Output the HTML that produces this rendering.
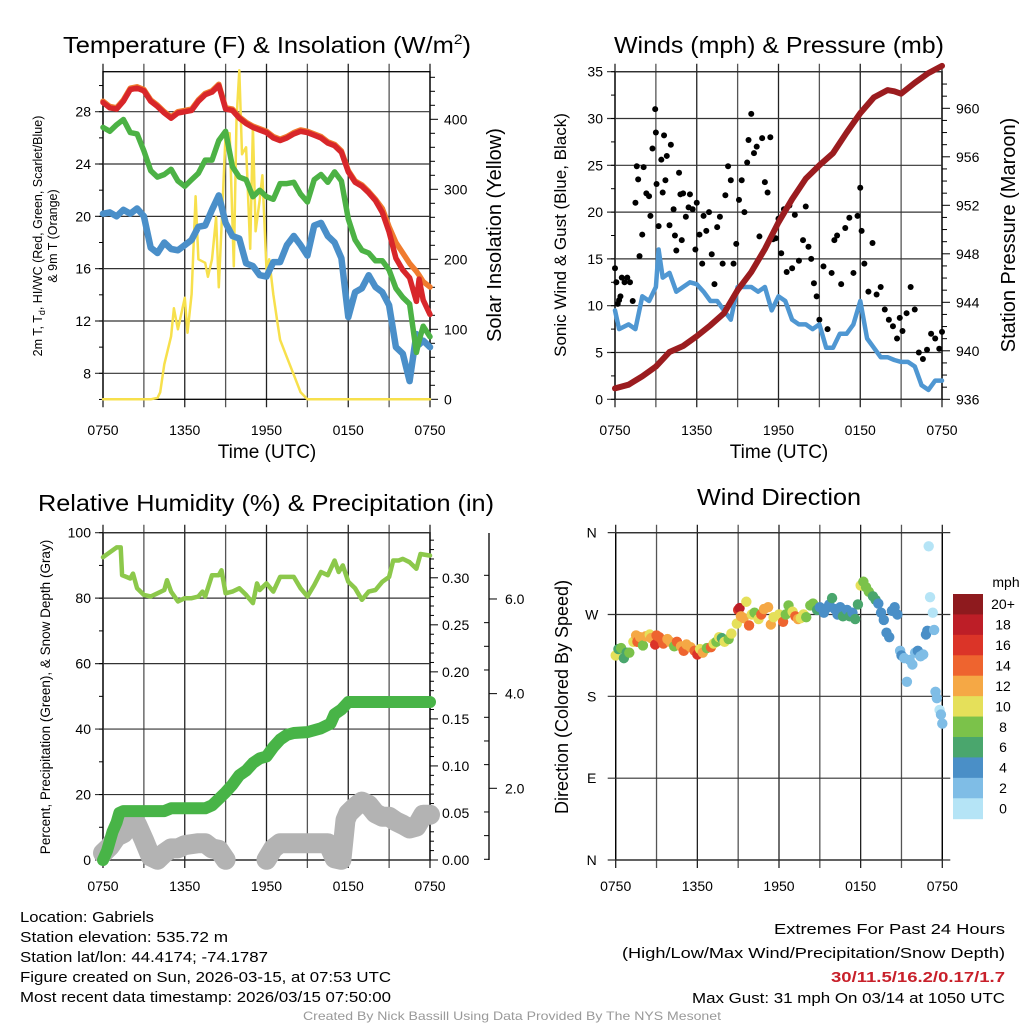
<!DOCTYPE html>
<html><head><meta charset="utf-8"><style>
html,body{margin:0;padding:0;background:#fff}
svg{display:block;font-family:"Liberation Sans",sans-serif}
</style></head><body>
<svg id="c" width="1024" height="1024" viewBox="0 0 1024 1024" xmlns="http://www.w3.org/2000/svg">
<rect width="1024" height="1024" fill="#fff"/>
<g id="g"></g>
<text x="267" y="53" font-size="23" text-anchor="middle" textLength="408" lengthAdjust="spacingAndGlyphs">Temperature (F) &amp; Insolation (W/m<tspan font-size="14" dy="-9">2</tspan><tspan dy="9">)</tspan></text>
<text x="779" y="53" font-size="23" text-anchor="middle" textLength="330" lengthAdjust="spacingAndGlyphs">Winds (mph) &amp; Pressure (mb)</text>
<text x="266" y="511" font-size="23" text-anchor="middle" textLength="456" lengthAdjust="spacingAndGlyphs">Relative Humidity (%) &amp; Precipitation (in)</text>
<text x="779" y="505" font-size="23" text-anchor="middle" textLength="164" lengthAdjust="spacingAndGlyphs">Wind Direction</text>
<g font-size="15">
<text x="20" y="922" textLength="134" lengthAdjust="spacingAndGlyphs">Location: Gabriels</text>
<text x="20" y="942" textLength="208" lengthAdjust="spacingAndGlyphs">Station elevation: 535.72 m</text>
<text x="20" y="962" textLength="248" lengthAdjust="spacingAndGlyphs">Station lat/lon: 44.4174; -74.1787</text>
<text x="20" y="982" textLength="371" lengthAdjust="spacingAndGlyphs">Figure created on Sun, 2026-03-15, at 07:53 UTC</text>
<text x="20" y="1002" textLength="371" lengthAdjust="spacingAndGlyphs">Most recent data timestamp: 2026/03/15 07:50:00</text>
</g>
<g font-size="15" text-anchor="end">
<text x="1005" y="934" textLength="231" lengthAdjust="spacingAndGlyphs">Extremes For Past 24 Hours</text>
<text x="1005" y="958" textLength="383" lengthAdjust="spacingAndGlyphs">(High/Low/Max Wind/Precipitation/Snow Depth)</text>
<text x="1005" y="982" fill="#c8202a" font-weight="bold" textLength="174" lengthAdjust="spacingAndGlyphs">30/11.5/16.2/0.17/1.7</text>
<text x="1005" y="1003" textLength="313" lengthAdjust="spacingAndGlyphs">Max Gust: 31 mph On 03/14 at 1050 UTC</text>
</g>
<text x="512" y="1020" font-size="12" fill="#999" text-anchor="middle" textLength="418" lengthAdjust="spacingAndGlyphs">Created By Nick Bassill Using Data Provided By The NYS Mesonet</text>
</svg>
<script>
// ---- data (time in hours since 0750 UTC) ----
const timeLabels=["0750","1350","1950","0150","0750"];
const tT=[0,0.5,1,1.5,2,2.5,3,3.5,4,4.5,5,5.5,6,6.5,7,7.5,8,8.5,9,9.5,10,10.5,11,11.5,12,12.5,13,13.5,14,14.5,15,15.5,16,16.5,17,17.5,18,18.5,19,19.5,20,20.5,21,21.5,22,22.5,23,23.2,23.5,24];
const tempRed=[28.7,28.3,28.2,28.8,29.7,29.8,29.6,28.8,28.4,27.9,27.5,27.9,28,28.1,28.8,29.3,29.5,30,28.2,28.1,27.5,27.1,26.8,26.6,26.4,26,25.8,26,26.3,26.5,26.4,26.2,26,25.6,25.4,24.9,23.4,22.6,22.3,21.8,21.2,20.3,18.8,16.8,15.9,15.3,13.5,15.2,13.6,12.5];
const temp9m=[28.8,28.4,28.3,28.9,29.8,29.9,29.7,28.9,28.5,28,27.6,28,28.1,28.2,28.9,29.4,29.6,30.1,28.3,28.2,27.6,27.2,26.9,26.7,26.5,26.1,25.9,26.1,26.4,26.6,26.5,26.3,26.1,25.7,25.5,25,23.5,22.7,22.4,21.9,21.3,20.6,19.2,18,17.2,16.4,15.8,15.5,15,14.6];
const dewGreen=[26.8,26.5,27,27.4,26.4,26.3,25,23.5,23,23.2,23.6,22.7,22.3,22.8,23.3,24.3,24.3,25.8,26.5,23.8,23,22.8,21.5,22,21.5,21.3,22.5,22.5,22.6,21.7,21.1,22.8,23.2,22.6,23.4,22.7,19.8,18.2,17.4,17.2,16.6,16.6,15.9,14.5,13.8,13.3,9.6,10.5,11.6,10.8];
const wcBlue=[20.2,20.3,20,20.5,20.2,20.6,20,17.6,17.2,18,17.5,17.4,17.8,18.2,19.2,19.3,20.5,21.6,19.5,18.5,18.3,16.4,16.2,15.5,15.4,16.5,16.5,17.8,18.5,17.8,17,19.3,19.5,18.5,18,16.8,12.3,14.2,14.5,15.5,14.6,14.2,13.2,10,9.5,7.4,11,10.2,10.5,10];
const tSolar=[0,3.5,4,4.2,4.5,5,5.2,5.5,6,6.2,6.5,6.8,7,7.5,7.7,8,8.3,8.5,8.8,9,9.3,9.6,9.8,10,10.2,10.5,10.8,11,11.2,11.5,11.7,12,12.2,12.5,12.8,13,13.5,14,14.5,15,24];
const solar=[0,0,2,10,50,90,130,100,145,95,150,290,200,195,175,200,260,160,290,380,380,190,400,470,350,360,215,390,240,285,320,185,200,150,110,85,60,35,10,0,0];
const tP=[0,1,2,3,4,5,6,7,8,9,10,11,12,13,14,15,16,17,18,19,20,20.5,21,22,23,24];
const pressure=[936.9,937.2,937.9,938.7,939.9,940.4,941.2,942.1,943.1,945,946.5,948.4,950.6,952.5,954.2,955.3,956.3,958,959.6,960.9,961.5,961.4,961.2,962.1,962.9,963.5];
const tW=[0,0.3,1,1.5,2,2.5,3,3.2,3.5,4,4.5,5,5.5,6,6.5,7,7.5,8,8.5,9,9.5,10,10.5,11,11.5,12,12.5,13,13.5,14,14.5,15,15.5,16,16.5,17,17.5,18,18.5,19,19.5,20,20.5,21,21.5,22,22.5,23,23.5,24];
const windSonic=[9.5,7.5,8,7.5,11,10.5,12,16,13,13.5,11.5,12,12.5,12.3,11.5,10.5,10.5,9.5,8.5,12,12,12,11.5,12,9.5,11,10.5,8.5,8,8,7.5,8,5.5,5.5,7,7,8,10.5,6.5,5.5,4.5,4.5,4.2,4,4,3.5,1.5,1,2,2];
const tGust=[0,0.1,0.2,0.3,0.4,0.5,0.7,0.9,1.1,1.3,1.5,1.6,1.7,1.8,2.0,2.1,2.3,2.5,2.6,2.75,2.95,3.0,3.05,3.2,3.4,3.5,3.6,3.7,3.8,4.0,4.1,4.3,4.4,4.5,4.7,4.8,4.9,5.0,5.2,5.4,5.5,5.7,5.9,6.0,6.2,6.4,6.5,6.7,6.9,7.1,7.3,7.5,7.7,7.9,8.1,8.3,8.5,8.7,8.9,9.1,9.3,9.5,9.7,9.8,10.0,10.2,10.4,10.6,10.8,11.0,11.2,11.4,11.6,11.8,12.0,12.2,12.4,12.6,12.8,13.0,13.2,13.5,13.8,14.0,14.2,14.4,14.6,14.8,15.0,15.3,15.6,15.9,16.1,16.3,16.6,16.9,17.2,17.5,17.8,18.0,18.1,18.3,18.6,18.9,19.2,19.5,19.8,20.1,20.4,20.7,20.9,21.1,21.4,21.7,22.0,22.3,22.6,22.9,23.2,23.5,23.8,24.0];
const gust=[14,12.5,10.2,10.6,11,13,12.5,13,12.5,10.5,21,24.9,23.5,15.3,17.6,24.8,22,21.7,19.6,26.8,31,28.5,23,18.5,25.6,22.1,28.2,23.4,26,18.6,27.2,20.3,17.5,15.9,24.2,21.9,17,22,19.5,20.5,21.9,20.3,16,21,17.6,14.5,19.6,18,20,15.5,12.3,18.4,19.5,14.5,21.8,24.9,23.4,14.5,16.6,21.3,23.4,20,25.3,27.7,30.5,26.3,27,17.4,27.9,23.2,22.1,28,17.1,17.2,19.3,15.6,20.3,13.6,20.7,14,19.7,14.8,17,20.6,16.3,15,12.4,11,8.5,14.2,7.5,13.5,17,17.5,12.3,18.3,19.4,13.5,19.6,22.6,18,14.5,11.5,16.7,11.2,12,9.6,8.5,7.8,6.5,8.7,7.3,9.2,12,9.6,5,4.3,5.3,7,6.5,5.4,7.2,5.5,3.7,2.2,2.5,2.8];
const tRH=[0,0.5,1,1.3,1.4,2,2.2,2.5,3,3.5,4,4.5,4.7,5,5.5,6,6.5,7,7.3,7.5,8,8.5,8.7,9,9.5,10,10.5,11,11.3,11.5,12,12.5,13,13.5,14,14.5,15,15.5,16,16.5,17,17.3,17.6,18,18.5,19,19.5,20,20.5,21,21.3,21.7,22,22.5,23,23.3,24];
const rh=[92.5,94,95.5,95.5,87,86,87.5,83,81,80.5,81.5,82.5,85.5,82,79,80,80,80.5,82,80.5,87,87,88.5,81.5,82,83,81,78.5,84.5,82.5,84.5,82,86.5,86.5,86.5,83,80.5,84,88,87,91.5,88,90,85,83,79.5,82,82.5,85,86.5,91.5,91.5,92,91,89,93.5,93];
const tPr=[0,0.3,0.5,0.7,1,1.2,1.5,4.5,5,7.5,8,8.5,9,9.5,10,10.5,11,11.5,12,12.5,13,13.5,14,15,16,16.7,17,17.5,18,24];
const precip=[0,0.01,0.02,0.03,0.04,0.05,0.052,0.052,0.055,0.055,0.058,0.065,0.072,0.08,0.09,0.095,0.103,0.108,0.11,0.12,0.128,0.133,0.135,0.136,0.14,0.145,0.155,0.16,0.168,0.168];
const tSnowA=[0,0.5,1,1.5,2,2.5,3,3.5,4,4.5,5,5.5,6,7,7.5,8,8.5,9];
const snowA=[0.63,0.77,0.98,1.05,1.26,1.23,0.91,0.56,0.49,0.63,0.73,0.73,0.80,0.84,0.84,0.73,0.70,0.49];
const tSnowB=[12,12.5,13,14,15,16,16.5,17,17.5,17.8,18,18.5,19,19.5,20,20.5,21,21.5,22,22.5,23,23.5,24];
const snowB=[0.49,0.73,0.84,0.84,0.84,0.84,0.84,0.52,0.49,1.33,1.47,1.61,1.72,1.65,1.47,1.40,1.40,1.30,1.23,1.15,1.19,1.44,1.44];
const tSnowPts=[4.6,4.7,4.8,12.6,18,18.3,18.4,18.6,24];
const snowPts=[0.73,0.77,0.71,0.77,1.40,1.50,1.47,1.54,1.47];
const dirLabels=["N","E","S","W","N"];
const tDir=[0,0.2,0.4,0.6,0.8,1.0,1.3,1.5,1.6,1.8,2.0,2.2,2.5,2.6,2.9,3.0,3.2,3.4,3.5,3.8,4.0,4.3,4.5,4.8,5.0,5.2,5.5,5.8,6.0,6.2,6.4,6.7,7.0,7.2,7.4,7.6,7.8,8.0,8.3,8.5,8.9,9.0,9.1,9.2,9.4,9.6,9.8,10.0,10.2,10.5,10.7,10.9,11.2,11.4,11.6,12.0,12.3,12.5,12.7,13.0,13.2,13.4,13.6,13.8,14.0,14.3,14.5,14.8,15.0,15.3,15.5,15.7,15.9,16.1,16.3,16.5,16.7,17.0,17.2,17.4,17.6,17.8,18.0,18.2,18.4,18.6,18.9,19.1,19.3,19.5,19.7,19.9,20.1,20.3,20.5,20.7,20.9,21.0,21.2,21.4,21.6,21.8,22.0,22.2,22.4,22.6,22.8,22.9,23.0,23.1,23.3,23.4,23.5,23.6,23.8,23.9,24.0];
const dirDeg=[225,232,233,222,228,228,240,247,240,245,236,246,248,244,237,247,245,242,238,243,240,235,240,235,230,237,234,230,226,232,228,233,234,238,240,245,244,240,243,249,260,275,277,268,266,284,258,270,272,265,270,276,278,259,267,270,262,270,280,273,268,265,266,270,267,280,282,275,278,272,277,281,288,276,270,278,268,275,268,272,265,281,302,306,300,295,290,286,282,272,264,250,245,274,278,270,230,225,222,196,220,215,228,230,224,226,248,252,345,289,272,253,185,178,165,160,150,140,130];
const dirSpeed=[10,7,8,7,7,8,10,12,14,12,8,12,11,12,17,14,15,14,15,13,12,8,15,13,14,12,12,15,16,11,12,9,15,10,9,10,7,10,9,10,10,16,18,12,12,10,14,10,9,11,15,12,13,12,11,11,15,9,8,10,14,12,10,11,9,9,9,7,4,5,4,5,6,4,5,4,6,5,6,5,7,6,10,9,8,8,7,6,5,4,4,4,4,4,4,4,3,4,3,2,3,3,2,4,3,3,4,4,0,1,1,2,2,3,1,2,3,1,2];
const cbLabels=["20+","18","16","14","12","10","8","6","4","2","0"];
const cbColors=["#8e1a1e","#bd1e27","#db3428","#ee642f","#f5a845","#e5e05a","#7bc24a","#4aa66d","#4a8fc7","#7fbde6","#b5e4f6"];

// ---- helpers ----
const NS="http://www.w3.org/2000/svg";
const G=document.getElementById('g');
function el(tag,attrs,parent){const e=document.createElementNS(NS,tag);for(const k in attrs)e.setAttribute(k,attrs[k]);(parent||G).appendChild(e);return e;}
function txt(x,y,s,attrs,parent){const e=el('text',Object.assign({x:x,y:y},attrs),parent);e.textContent=s;return e;}
function pts(ts,vs,sx,sy){return ts.map((t,i)=>sx(t).toFixed(1)+','+sy(vs[i]).toFixed(1)).join(' ');}
function line(ts,vs,sx,sy,color,w,name){const p=el('polyline',{points:pts(ts,vs,sx,sy),fill:'none',stroke:color,'stroke-width':w,'stroke-linejoin':'round','stroke-linecap':'round'});


return p;}

function frame(x0,x1,y0,y1,name){
  const g=el('g',{});
  
  
  const xs=t=>x0+t*(x1-x0)/24;
  for(let k=0;k<=8;k++){const x=xs(k*3);el('line',{x1:x,y1:y0-8,x2:x,y2:y1+8,stroke:(k%2?'#555':'#222'),'stroke-width':1.3},g);}
  el('rect',{x:x0,y:y0,width:x1-x0,height:y1-y0,fill:'none',stroke:'#000','stroke-width':1.3},g);
  return {g,xs};
}
function timeAxis(xs,y,g){timeLabels.forEach((s,i)=>{const lab=txt(xs(i*6),y,s,{'font-size':14,'text-anchor':'middle'},g);

});}
function hgrid(g,x0,x1,ys,ext){ys.forEach(y=>el('line',{x1:x0-ext,y1:y,x2:x1,y2:y,stroke:'#333','stroke-width':1.2},g));}

// ===== Panel 1 =====
(function(){
  const x0=103,x1=430,y0=71.7,y1=399.3;
  const f=frame(x0,x1,y0,y1,'temperature-panel');const g=f.g,xs=f.xs;
  const yT=v=>373.3-(v-8)*13.08, yS=w=>399.3-w*0.7;
  const lt=[8,12,16,20,24,28];
  hgrid(g,x0,x1,lt.map(yT),8);
  for(let v=6;v<=30;v+=2){el('line',{x1:x0-4,y1:yT(v),x2:x0,y2:yT(v),stroke:'#000'},g);}
  lt.forEach(v=>txt(x0-12,yT(v)+5,String(v),{'font-size':14,'text-anchor':'end'},g));
  for(let w=0;w<=460;w+=20){const big=w%100==0;el('line',{x1:x1,y1:yS(w),x2:x1+(big?8:5),y2:yS(w),stroke:'#000'},g);}
  [0,100,200,300,400].forEach(w=>txt(x1+14,yS(w)+5,String(w),{'font-size':14},g));
  line(tSolar,solar,xs,yS,'#f7e04c',2.5,'solar-insolation-line');
  line(tT,wcBlue,xs,yT,'#4a8fc9',6.5,'wind-chill-line');
  line(tT,dewGreen,xs,yT,'#4cb245',5.5,'dewpoint-line');
  line(tT,temp9m,xs,yT,'#f07b2e',5.5,'temp-9m-line');
  line(tT,tempRed,xs,yT,'#d8262a',5.5,'temp-2m-line');
  timeAxis(xs,435,g);
  txt(267,458,'Time (UTC)',{'font-size':19,'text-anchor':'middle'},g);
  const yl=txt(0,0,'',{'font-size':12.5,'text-anchor':'middle',transform:'translate(42,236) rotate(-90)'},g);
  yl.innerHTML='2m T, T<tspan font-size="9" dy="3">d</tspan><tspan dy="-3">, HI/WC (Red, Green, Scarlet/Blue)</tspan>';
  
  txt(0,0,'& 9m T (Orange)',{'font-size':12.5,'text-anchor':'middle',transform:'translate(57,236) rotate(-90)'},g);
  const rl=txt(0,0,'Solar Insolation (Yellow)',{'font-size':20,'text-anchor':'middle',transform:'translate(501,235) rotate(-90)'},g);
  
})();

// ===== Panel 2 =====
(function(){
  const x0=615,x1=942,y0=71.7,y1=399.3;
  const f=frame(x0,x1,y0,y1,'winds-panel');const g=f.g,xs=f.xs;
  const yW=v=>399.3-v*9.36, yP=p=>399.3-(p-936)*12.125;
  const lt=[0,5,10,15,20,25,30,35];
  hgrid(g,x0,x1,lt.map(yW),8);
  for(let v=0;v<=35;v+=2.5){el('line',{x1:x0-4,y1:yW(v),x2:x0,y2:yW(v),stroke:'#000'},g);}
  lt.forEach(v=>txt(x0-12,yW(v)+5,String(v),{'font-size':14,'text-anchor':'end'},g));
  for(let p=936;p<=962;p+=1){const big=p%4==0;el('line',{x1:x1,y1:yP(p),x2:x1+(big?8:5),y2:yP(p),stroke:'#000'},g);}
  [936,940,944,948,952,956,960].forEach(p=>txt(x1+14,yP(p)+5,String(p),{'font-size':14},g));
  line(tW,windSonic,xs,yW,'#4f97d2',4.5,'sonic-wind-line');
  tGust.forEach((t,i)=>{const c=el('circle',{cx:xs(t),cy:yW(gust[i]),r:3,fill:'#000'},g);
  
  });
  line(tP,pressure,xs,yP,'#9b1c1f',6,'pressure-line');
  timeAxis(xs,435,g);
  txt(779,458,'Time (UTC)',{'font-size':19,'text-anchor':'middle'},g);
  txt(0,0,'Sonic Wind & Gust (Blue, Black)',{'font-size':17,'text-anchor':'middle',transform:'translate(566,235) rotate(-90)'},g);
  txt(0,0,'Station Pressure (Maroon)',{'font-size':20,'text-anchor':'middle',transform:'translate(1015,235) rotate(-90)'},g);
})();

// ===== Panel 3 =====
(function(){
  const x0=103,x1=430,y0=532.7,y1=860;
  const f=frame(x0,x1,y0,y1,'humidity-panel');const g=f.g,xs=f.xs;
  const yR=v=>860-v*3.273, yPr=p=>860-p*940.7, ySn=s=>788.3-(s-2)*47.33;
  const lt=[0,20,40,60,80,100];
  hgrid(g,x0,x1,lt.map(yR),8);
  for(let v=0;v<=100;v+=10){el('line',{x1:x0-4,y1:yR(v),x2:x0,y2:yR(v),stroke:'#000'},g);}
  lt.forEach(v=>txt(x0-12,yR(v)+5,String(v),{'font-size':14,'text-anchor':'end'},g));
  for(let p=0;p<=0.345;p+=0.01){const big=Math.round(p*100)%5==0;el('line',{x1:x1,y1:yPr(p),x2:x1+(big?8:4),y2:yPr(p),stroke:'#000'},g);}
  ['0.00','0.05','0.10','0.15','0.20','0.25','0.30'].forEach(s=>txt(x1+12,yPr(parseFloat(s))+5,s,{'font-size':14},g));
  el('line',{x1:489,y1:533,x2:489,y2:860,stroke:'#000','stroke-width':1.3},g);
  for(let s=0.5;s<=6.9;s+=0.5){const y=ySn(s);if(y<533||y>860)continue;const big=Math.abs(s-Math.round(s))<0.01&&Math.round(s)%2==0;el('line',{x1:489,y1:y,x2:big?497:484,y2:y,stroke:'#000'},g);}
  ['2.0','4.0','6.0'].forEach(s=>txt(505,ySn(parseFloat(s))+5,s,{'font-size':14},g));
  line(tSnowA,snowA,xs,ySn,'#b3b3b3',20,'snow-depth-line-a');
  line(tSnowB,snowB,xs,ySn,'#b3b3b3',20,'snow-depth-line-b');
  tSnowPts.forEach((t,i)=>{const c=el('circle',{cx:xs(t),cy:ySn(snowPts[i]),r:2.5,fill:'#9b30e0'},g);
  
  });
  line(tPr,precip,xs,yPr,'#48b447',12,'precipitation-line');
  line(tRH,rh,xs,yR,'#8cc84b',4.5,'relative-humidity-line');
  timeAxis(xs,891,g);
  txt(0,0,'Percent, Precipitation (Green), & Snow Depth (Gray)',{'font-size':13.5,'text-anchor':'middle',transform:'translate(50,697) rotate(-90)'},g);
})();

// ===== Panel 4 =====
(function(){
  const x0=615.7,x1=942.3,y0=532.7,y1=860;
  const f=frame(x0,x1,y0,y1,'wind-direction-panel');const g=f.g,xs=f.xs;
  const yD=d=>860-d*0.9093;
  const lt=[0,90,180,270,360];
  hgrid(g,x0,x1+8,lt.map(yD),8);
  lt.forEach((d,i)=>txt(x0-24,yD(d)+5,dirLabels[i],{'font-size':14,'text-anchor':'middle'},g));
  const col=s=>cbColors[10-Math.min(10,Math.floor(s/2))];
  tDir.forEach((t,i)=>{const c=el('circle',{cx:xs(t),cy:yD(dirDeg[i]),r:5.2,fill:col(dirSpeed[i])},g);
  
  });
  timeAxis(xs,891,g);
  txt(0,0,'Direction (Colored By Speed)',{'font-size':18,'text-anchor':'middle',transform:'translate(568,697) rotate(-90)'},g);
  const cb=el('g',{});
  
  
  const h=(818.7-594)/11;
  cbColors.forEach((c,i)=>{el('rect',{x:953,y:594+i*h,width:30,height:h+0.5,fill:c},cb);
    txt(1003,594+i*h+h/2+5,cbLabels[i],{'font-size':14,'text-anchor':'middle'},cb);});
  txt(1006,587,'mph',{'font-size':14,'text-anchor':'middle'},cb);
})();
</script>
</body></html>
